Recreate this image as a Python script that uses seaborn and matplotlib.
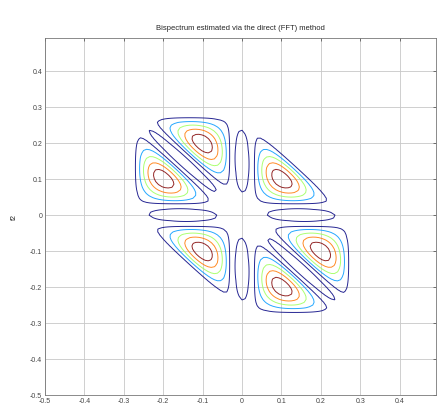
import numpy as np
import matplotlib
matplotlib.use("Agg")
import matplotlib.pyplot as plt
import seaborn as sns

# Frequency grid of the direct (FFT) bispectrum estimate
nfft = 128
waxis = np.arange(-nfft // 2, nfft // 2) / nfft

# Spectral model of the analysed signal: band-limited component plus DC leakage
band_lo = 0.03         # lower edge of the signal band (normalised frequency)
band_hi = 0.27         # upper edge of the signal band
band_power = 0.9       # shape exponent of the band magnitude
dc_leak = 0.12         # amplitude of the leaked DC term
leak_width = 0.014     # width of the DC leakage kernel

# Contour levels as fractions of the peak bispectrum magnitude
level_fracs = [0.05, 0.28, 0.5, 0.7, 0.88]

tick_vals = [-0.5, -0.4, -0.3, -0.2, -0.1, 0.0, 0.1, 0.2, 0.3, 0.4]
tick_labels = ["-0.5", "-0.4", "-0.3", "-0.2", "-0.1", "0", "0.1", "0.2", "0.3", "0.4"]


def spectrum_mag(f):
    af = np.abs(f)
    inside = (af > band_lo) & (af < band_hi)
    phase = np.clip((af - band_lo) / (band_hi - band_lo), 0, 1)
    band = np.where(inside, np.sin(np.pi * phase), 0.0) ** band_power
    return band + dc_leak * np.exp(-(f / leak_width) ** 2)


F1, F2 = np.meshgrid(waxis, waxis)
bspec = spectrum_mag(F1) * spectrum_mag(F2) * spectrum_mag(F1 + F2)
levels = bspec.max() * np.asarray(level_fracs)

sns.set_style("white")
plt.rcParams["font.family"] = ["Liberation Sans", "DejaVu Sans"]

fig = plt.figure(figsize=(4.38, 4.07), dpi=100)
ax = fig.add_axes([45 / 438, 12 / 407, 391 / 438, 357 / 407])

ax.contour(waxis, waxis, bspec, levels=levels, cmap="jet", linewidths=0.7, alpha=0.85)

ax.set_xlim(waxis[0], waxis[-1])
ax.set_ylim(waxis[0], waxis[-1])
ax.set_xticks(tick_vals)
ax.set_xticklabels(tick_labels)
ax.set_yticks(tick_vals)
ax.set_yticklabels(tick_labels)
ax.grid(True, color="#c8c8c8", linewidth=0.6, linestyle="-")
ax.set_axisbelow(True)
ax.tick_params(direction="in", length=2.5, width=0.5, labelsize=5,
               top=True, right=True, colors="#444444", pad=2)
for sp in ax.spines.values():
    sp.set_color("#777777")
    sp.set_linewidth(0.6)

ax.set_title("Bispectrum estimated via the direct (FFT) method", fontsize=5.5, pad=6)
ax.set_ylabel("f2", fontsize=5, rotation=90)
ax.yaxis.set_label_coords(-27 / 391, 0.5)

fig.savefig("out.png", dpi=100)
